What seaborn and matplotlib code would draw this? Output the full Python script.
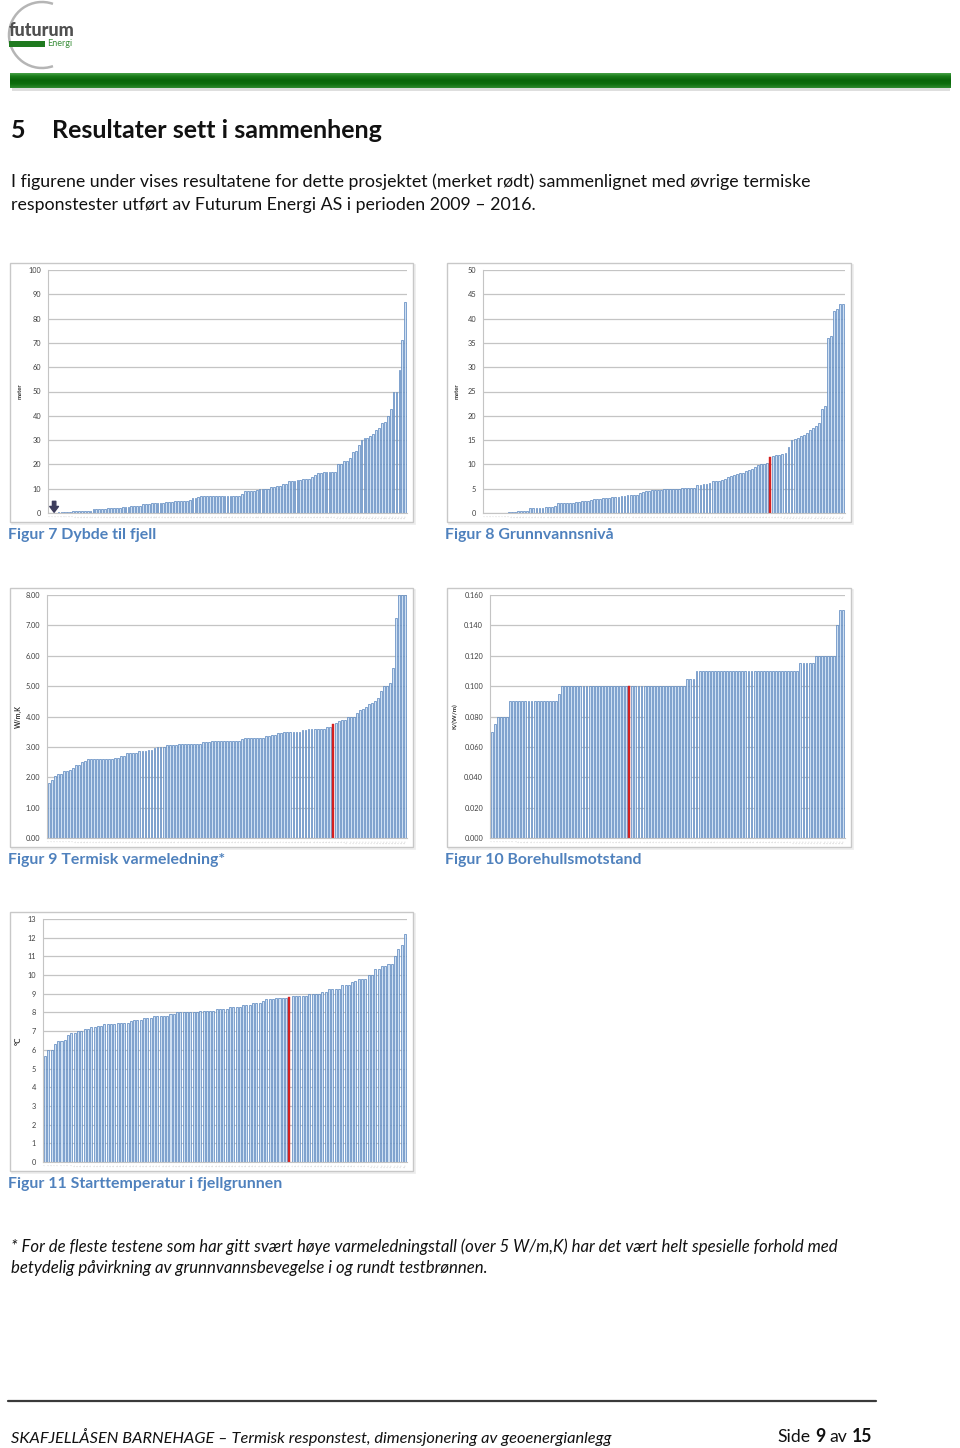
import numpy as np
import pandas as pd
import matplotlib
matplotlib.use("Agg")
import matplotlib.pyplot as plt
import seaborn as sns
from matplotlib.patches import Rectangle, Arc
from matplotlib.lines import Line2D
from matplotlib.colors import LinearSegmentedColormap

W, H = 960, 1448

# ---------------- DATA ----------------
# Figur 7 Dybde til fjell (meter)
depth = [0, 0, 0, 0.3, 0.3, 0.3, 0.3, 0.5, 1, 1, 1, 1, 1, 1, 1, 1.5, 1.5, 1.5, 1.5, 1.5,
         2, 2, 2, 2, 2, 2.5, 2.5, 2.5, 3, 3, 3, 3, 3.5, 3.5, 3.5, 4, 4, 4, 4, 4,
         4.5, 4.5, 4.5, 5, 5, 5, 5, 5, 5.5, 6, 6, 6.5, 7, 7, 7, 7, 7, 7, 7, 7,
         7, 7, 7, 7, 7, 7.2, 8, 9, 9, 9, 9.2, 9.5, 10, 10, 10, 10, 10.5, 10.5, 11, 11,
         12, 12, 13, 13, 13, 13.5, 13.5, 14, 14, 14, 15, 15.5, 16.5, 16.5, 17, 17, 17, 17, 17,
         20, 20, 21.5, 21.5, 22.5, 25, 25.5, 28, 30, 31, 31, 31.5, 32.5, 34, 35, 37, 37.5,
         40, 43, 50, 50, 59, 71, 87]
depth_project_idx = 1  # marked with arrow (value 0)

# Figur 8 Grunnvannsnivå (meter)
gw = [0.1, 0.1, 0.1, 0.1, 0.1, 0.1, 0.1, 0.1, 0.3, 0.3, 0.3, 0.5, 0.5, 0.5, 0.5,
      1.0, 1.0, 1.0, 1.0, 1.0, 1.2, 1.3, 1.3, 1.5,
      2.0, 2.0, 2.0, 2.0, 2.0, 2.1, 2.2, 2.3, 2.4, 2.5, 2.5, 2.6,
      2.8, 2.8, 2.8, 3.0, 3.0, 3.1, 3.2, 3.3, 3.3, 3.4, 3.6, 3.7, 3.7, 3.8, 3.8,
      4.2, 4.3, 4.5, 4.5, 4.7, 4.7, 4.8, 4.8,
      5.0, 5.0, 5.0, 5.0, 5.0, 5.0, 5.1, 5.1, 5.1, 5.2, 5.2, 5.8, 5.8, 5.9, 6.0, 6.2,
      6.5, 6.5, 6.6, 6.8, 6.9, 7.5, 7.7, 7.9, 8.0, 8.2, 8.3, 8.6, 8.8, 9.0,
      9.5, 9.8, 10.0, 10.0, 10.2,
      11.5,
      11.8, 12.0, 12.0, 12.1, 12.3, 13.5, 15.0, 15.3, 15.5, 15.8, 16.0, 16.5, 17.0, 17.5,
      18.0, 18.5, 21.5, 22.0, 36.0, 36.5, 41.5, 42.0, 43.0, 43.0]
gw_red_idx = 94

# Figur 9 Termisk varmeledning (W/m,K)
tc = [1.8, 1.9, 2.05, 2.1, 2.1, 2.2, 2.2, 2.25, 2.3, 2.4, 2.4, 2.5, 2.55,
      2.6, 2.6, 2.6, 2.6, 2.6, 2.6, 2.6, 2.6, 2.6, 2.65, 2.65, 2.7, 2.7,
      2.8, 2.8, 2.8, 2.8, 2.85, 2.85, 2.85, 2.9, 2.9, 2.95, 3.0, 3.0, 3.0,
      3.05, 3.05, 3.05, 3.05, 3.1, 3.1, 3.1, 3.1, 3.1, 3.1, 3.1, 3.1, 3.15, 3.15, 3.15,
      3.2, 3.2, 3.2, 3.2, 3.2, 3.2, 3.2, 3.2, 3.2, 3.2, 3.25,
      3.3, 3.3, 3.3, 3.3, 3.3, 3.3, 3.3, 3.35, 3.35, 3.4, 3.4, 3.45, 3.45,
      3.5, 3.5, 3.5, 3.5, 3.5, 3.5, 3.55, 3.55, 3.6, 3.6, 3.6, 3.6, 3.6, 3.6, 3.65, 3.65,
      3.75,
      3.8, 3.85, 3.9, 3.9, 4.0, 4.0, 4.0, 4.1, 4.2, 4.25, 4.3, 4.4, 4.45, 4.5, 4.6,
      4.85, 5.0, 5.0, 5.1, 5.6, 7.25, 8.0, 8.0, 8.0]
tc_red_idx = 94

# Figur 10 Borehullsmotstand (K/(W/m))
rb = [0.070, 0.075, 0.080, 0.080, 0.080, 0.080,
      0.090, 0.090, 0.090, 0.090, 0.090, 0.090, 0.090, 0.090, 0.090, 0.090, 0.090, 0.090,
      0.090, 0.090, 0.090, 0.090, 0.095,
      0.100, 0.100, 0.100, 0.100, 0.100, 0.100, 0.100, 0.100, 0.100, 0.100, 0.100, 0.100,
      0.100, 0.100, 0.100, 0.100, 0.100, 0.100, 0.100, 0.100, 0.100, 0.100, 0.100, 0.100,
      0.100, 0.100, 0.100, 0.100, 0.100, 0.100, 0.100, 0.100, 0.100, 0.100, 0.100, 0.100,
      0.100, 0.100, 0.100, 0.100, 0.100, 0.105, 0.105, 0.105,
      0.110, 0.110, 0.110, 0.110, 0.110, 0.110, 0.110, 0.110, 0.110, 0.110, 0.110, 0.110,
      0.110, 0.110, 0.110, 0.110, 0.110, 0.110, 0.110, 0.110, 0.110, 0.110, 0.110, 0.110,
      0.110, 0.110, 0.110, 0.110, 0.110, 0.110, 0.110, 0.110, 0.110, 0.110,
      0.115, 0.115, 0.115, 0.115, 0.115, 0.120, 0.120, 0.120, 0.120, 0.120, 0.120, 0.120,
      0.140, 0.150, 0.150]
rb_red_idx = 45

# Figur 11 Starttemperatur i fjellgrunnen (°C)
temp = [5.65, 6.0, 6.0, 6.3, 6.5, 6.5, 6.55, 6.8, 6.9, 6.9, 7.0, 7.0, 7.1, 7.1, 7.2, 7.2,
        7.25, 7.3, 7.4, 7.4, 7.4, 7.4, 7.45, 7.45, 7.45, 7.45, 7.55, 7.6, 7.6, 7.6,
        7.7, 7.7, 7.7, 7.8, 7.8, 7.8, 7.8, 7.8, 7.9, 7.9, 8.0, 8.0, 8.0, 8.0, 8.0, 8.0, 8.0,
        8.1, 8.1, 8.1, 8.1, 8.1, 8.2, 8.2, 8.2, 8.2, 8.3, 8.3, 8.3, 8.3, 8.4, 8.4, 8.4,
        8.5, 8.5, 8.5, 8.6, 8.7, 8.7, 8.7, 8.8, 8.8, 8.8, 8.8,
        8.85,
        8.9, 8.9, 8.9, 8.9, 8.9, 9.0, 9.0, 9.0, 9.0, 9.1, 9.1, 9.25, 9.25, 9.25, 9.25,
        9.45, 9.45, 9.45, 9.65, 9.7, 9.8, 9.8, 9.8, 10.0, 10.0, 10.3, 10.3,
        10.5, 10.5, 10.6, 10.6, 11.0, 11.4, 11.6, 12.2]
temp_red_idx = 74

ticks_depth = [0, 10, 20, 30, 40, 50, 60, 70, 80, 90, 100]
ticks_gw = [0, 5, 10, 15, 20, 25, 30, 35, 40, 45, 50]
ticks_tc = [0, 1, 2, 3, 4, 5, 6, 7, 8]
ticks_rb = [0.0, 0.02, 0.04, 0.06, 0.08, 0.10, 0.12, 0.14, 0.16]
ticks_temp = [0, 1, 2, 3, 4, 5, 6, 7, 8, 9, 10, 11, 12, 13]

# ---------------- STYLE ----------------
sns.set_style("white")
plt.rcParams['font.family'] = ['Lato', 'DejaVu Sans']

BAR_FILL = '#cfe0f3'
BAR_EDGE = '#5683bd'
RED = '#d42020'
CAPTION = '#4f81bd'

fig = plt.figure(figsize=(W / 100, H / 100), dpi=100)
renderer = fig.canvas.get_renderer()


def fx(x):
    return x / W


def fy(y):
    return 1 - y / H


def size_for(s, width, **kw):
    t = fig.text(0, 0, s, fontsize=10, **kw)
    w = t.get_window_extent(renderer).width
    t.remove()
    return 10 * width / w


def put(x, y, s, size, ha='left', va='center', **kw):
    return fig.text(fx(x), fy(y), s, fontsize=size, ha=ha, va=va, **kw)


# ---------------- HEADER ----------------
fig.add_artist(Arc((fx(42), fy(35)), 66 / W, 66 / H, theta1=62, theta2=298,
                   transform=fig.transFigure, color='#b5b5b5', lw=1.8))
s_logo = size_for('futurum', 66, fontweight='black')
put(9, 30, 'futurum', s_logo, fontweight='black', color='#505050')
fig.add_artist(Rectangle((fx(9), fy(47)), 36 / W, 6 / H, transform=fig.transFigure,
                         fc='#1f7a1f', ec='none'))
s_en = size_for('Energi', 25)
put(47, 44, 'Energi', s_en, color='#3a8f3a')

axbar = fig.add_axes([fx(10), fy(88), 941 / W, 15 / H])
cmap = LinearSegmentedColormap.from_list('g', ['#56ad56', '#1b7d1b', '#0a650a', '#0e6e0e', '#2f8a2f'])
axbar.imshow(np.linspace(0, 1, 50).reshape(-1, 1), aspect='auto', cmap=cmap)
axbar.axis('off')
fig.add_artist(Rectangle((fx(12), fy(91)), 938 / W, 3 / H, transform=fig.transFigure,
                         fc='#dedede', ec='none'))

s_head = size_for('Resultater sett i sammenheng', 330, fontweight='bold')
put(11, 131, '5', s_head, fontweight='bold', color='#111111')
put(52, 131, 'Resultater sett i sammenheng', s_head, fontweight='bold', color='#111111')

p1 = ('I figurene under vises resultatene for dette prosjektet (merket rødt) '
      'sammenlignet med øvrige termiske')
p2 = 'responstester utført av Futurum Energi AS i perioden 2009 – 2016.'
s_par = size_for(p1, 799)
put(11, 182, p1, s_par, color='#111111')
put(11, 205, p2, s_par, color='#111111')


# ---------------- CHARTS ----------------
def draw_chart(plot_px, frame_px, values, red_idx, yticks, ticklabels, ylabel, ylabel_x,
               ylabel_size=4.6):
    x0, x1, y0, y1 = plot_px
    f0, f1, g0, g1 = frame_px
    fig.add_artist(Rectangle((fx(f0 + 2), fy(g1 + 2)), (f1 - f0) / W, (g1 - g0) / H,
                             transform=fig.transFigure, fill=False, ec='#ececec', lw=1.2,
                             zorder=-3))
    fig.add_artist(Rectangle((fx(f0), fy(g1)), (f1 - f0) / W, (g1 - g0) / H,
                             transform=fig.transFigure, fill=True, fc='white', ec='#c8c8c8',
                             lw=1, zorder=-2))
    ax = fig.add_axes([fx(x0), fy(y1), (x1 - x0) / W, (y1 - y0) / H])
    ax.patch.set_alpha(0)
    n = len(values)
    df = pd.DataFrame({
        'i': [str(k + 1) for k in range(n)],
        'v': values,
        'kind': ['project' if k == red_idx else 'other' for k in range(n)],
    })
    sns.barplot(data=df, x='i', y='v', hue='kind', order=list(df['i']),
                palette={'other': BAR_FILL, 'project': RED}, dodge=False,
                legend=False, width=0.62, saturation=1, ax=ax)
    for p in ax.patches:
        k = int(round(p.get_x() + p.get_width() / 2))
        if k == red_idx:
            p.set_edgecolor(RED)
            p.set_facecolor(RED)
            p.set_linewidth(0.3)
        else:
            p.set_edgecolor(BAR_EDGE)
            p.set_linewidth(0.5)
    ax.set_xlim(-0.6, n - 0.4)
    ax.set_ylim(yticks[0], yticks[-1])
    ax.set_yticks(yticks)
    ax.set_yticklabels(ticklabels, fontsize=5.3, color='#404040')
    ax.tick_params(axis='y', length=0, pad=5)
    ax.tick_params(axis='x', length=0, pad=1.5, labelsize=1.6, labelcolor='#a8a8a8',
                   labelrotation=60)
    ax.yaxis.grid(True, color='#c4c4c4', lw=0.9)
    ax.set_axisbelow(True)
    ax.spines['top'].set_visible(False)
    ax.spines['right'].set_visible(False)
    ax.spines['left'].set_color('#c4c4c4')
    ax.spines['bottom'].set_color('#c4c4c4')
    ax.set_xlabel('')
    ax.set_ylabel(ylabel, fontsize=ylabel_size, fontweight='bold', color='#303030')
    ax.yaxis.set_label_coords(ylabel_x, 0.5)
    return ax


ax1 = draw_chart((48, 407, 270, 513), (10, 413, 263, 522), depth, -1,
                 ticks_depth, [str(t) for t in ticks_depth], 'meter', -0.072, 4.2)
ax1.annotate('', xy=(depth_project_idx + 0.5, 0.3), xytext=(depth_project_idx + 0.5, 4.8),
             arrowprops=dict(arrowstyle='simple,head_width=0.9,head_length=0.6,tail_width=0.35',
                             color='#3d3d5c', mutation_scale=7, shrinkA=0, shrinkB=0))

draw_chart((483, 845, 270, 513), (447, 851, 263, 522), gw, gw_red_idx,
           ticks_gw, [str(t) for t in ticks_gw], 'meter', -0.064, 4.2)
draw_chart((47, 407, 595, 838), (10, 413, 588, 847), tc, tc_red_idx,
           ticks_tc, ['%.2f' % t for t in ticks_tc], 'W/m,K', -0.069, 5.0)
draw_chart((490, 845, 595, 838), (447, 851, 588, 847), rb, rb_red_idx,
           ticks_rb, ['%.3f' % t for t in ticks_rb], 'K/(W/m)', -0.09, 4.6)
draw_chart((43, 407, 919, 1162), (10, 413, 912, 1171), temp, temp_red_idx,
           ticks_temp, [str(t) for t in ticks_temp], '°C', -0.058, 5.6)

# ---------------- CAPTIONS ----------------
s_cap = size_for('Figur 11 Starttemperatur i fjellgrunnen', 274, fontweight='bold')
put(8, 535, 'Figur 7 Dybde til fjell', s_cap, fontweight='bold', color=CAPTION)
put(445, 535, 'Figur 8 Grunnvannsnivå', s_cap, fontweight='bold', color=CAPTION)
put(8, 860, 'Figur 9 Termisk varmeledning*', s_cap, fontweight='bold', color=CAPTION)
put(445, 860, 'Figur 10 Borehullsmotstand', s_cap, fontweight='bold', color=CAPTION)
put(8, 1184, 'Figur 11 Starttemperatur i fjellgrunnen', s_cap, fontweight='bold', color=CAPTION)

# ---------------- FOOTNOTE ----------------
fn1 = ('* For de fleste testene som har gitt svært høye varmeledningstall (over 5 W/m,K) '
       'har det vært helt spesielle forhold med')
fn2 = 'betydelig påvirkning av grunnvannsbevegelse i og rundt testbrønnen.'
s_fn = size_for(fn1, 829, fontstyle='italic')
put(11, 1247, fn1, s_fn, fontstyle='italic', color='#111111')
put(11, 1268, fn2, s_fn, fontstyle='italic', color='#111111')

# ---------------- FOOTER ----------------
fig.add_artist(Line2D([fx(8), fx(876)], [fy(1401), fy(1401)], lw=1.6, color='#3a3a3a',
                      transform=fig.transFigure))
ft = 'SKAFJELLÅSEN BARNEHAGE – Termisk responstest, dimensjonering av geoenergianlegg'
s_ft = size_for(ft, 601, fontstyle='italic')
put(11, 1437, ft, s_ft, fontstyle='italic', color='#111111')

pieces = [('Side', 'normal'), ('9', 'bold'), ('av', 'normal'), ('15', 'bold')]
s_side = s_ft * 1.08
texts, widths = [], []
for s, wt in pieces:
    t = fig.text(0, fy(1437), s, fontsize=s_side, fontweight=wt, va='center', color='#111111')
    texts.append(t)
    widths.append(t.get_window_extent(renderer).width)
gap = s_side * 100 / 72 * 0.24
xcur = 872 - (sum(widths) + gap * (len(pieces) - 1))
for t, w in zip(texts, widths):
    t.set_x(fx(xcur))
    xcur += w + gap

fig.savefig('out.png', dpi=100)
